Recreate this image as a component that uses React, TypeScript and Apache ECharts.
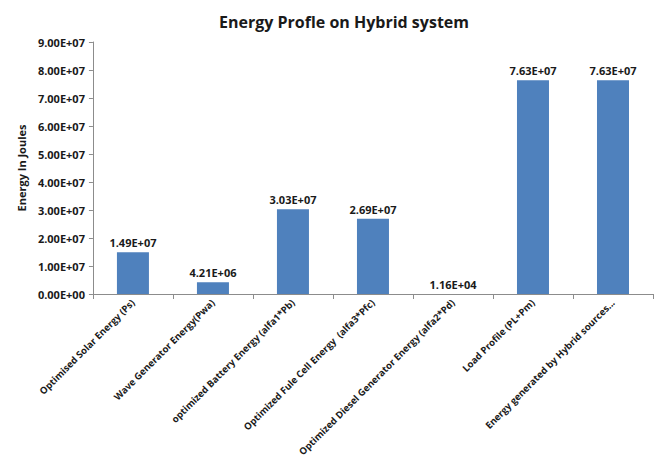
import React, { useEffect, useRef } from "react";
import * as echarts from "echarts";

const categories = [
  "Optimised Solar Energy (Ps)",
  "Wave Generator Energy(Pwa)",
  "optimized Battery Energy (alfa1*Pb)",
  "Optimized Fule Cell Energy  (alfa3*Pfc)",
  "Optimized Diesel Generator Energy (alfa2*Pd)",
  "Load Profile (PL+Pm)",
  "Energy generated by Hybrid sources...",
];

const energyJoules = [1.49e7, 4.21e6, 3.03e7, 2.69e7, 1.16e4, 7.63e7, 7.63e7];

const yTicks = { min: 0, max: 9e7, interval: 1e7 };

const FONT = "'Open Sans', 'Liberation Sans', sans-serif";

// Excel-style scientific notation: 1.49E+07
function sci(v: number): string {
  if (v === 0) return "0.00E+00";
  const [m, e] = v.toExponential(2).split("e");
  const exp = parseInt(e, 10);
  const sign = exp < 0 ? "-" : "+";
  return `${m}E${sign}${String(Math.abs(exp)).padStart(2, "0")}`;
}

export default function App() {
  const ref = useRef<HTMLDivElement>(null);

  useEffect(() => {
    if (!ref.current) return;
    const chart = echarts.init(ref.current, undefined, { renderer: "svg" });
    chart.setOption({
      animation: false,
      backgroundColor: "#ffffff",
      title: {
        text: "Energy Profle on Hybrid system",
        left: 206,
        top: 1,
        textStyle: { fontFamily: FONT, fontSize: 16, fontWeight: "bold", color: "#1a1a1a" },
      },
      grid: { left: 80, right: 5, top: 34, bottom: 183, containLabel: false },
      xAxis: {
        type: "category",
        data: categories,
        axisLine: { lineStyle: { color: "#8c8c8c" } },
        axisTick: { show: true, length: 5, lineStyle: { color: "#8c8c8c" } },
        axisLabel: {
          rotate: 45,
          interval: 0,
          margin: 7,
          fontFamily: FONT,
          fontSize: 9.5,
          fontWeight: "bold",
          color: "#1a1a1a",
        },
      },
      yAxis: {
        type: "value",
        min: yTicks.min,
        max: yTicks.max,
        interval: yTicks.interval,
        name: "Energy In Joules",
        nameLocation: "middle",
        nameGap: 64,
        nameRotate: 90,
        nameTextStyle: { fontFamily: FONT, fontSize: 11, fontWeight: "bold", color: "#1a1a1a" },
        axisLine: { show: true, lineStyle: { color: "#8c8c8c" } },
        axisTick: { show: true, length: 4, lineStyle: { color: "#8c8c8c" } },
        splitLine: { show: false },
        axisLabel: {
          formatter: (v: number) => sci(v),
          fontFamily: FONT,
          fontSize: 11,
          fontWeight: "bold",
          color: "#1a1a1a",
          margin: 8,
        },
      },
      series: [
        {
          type: "bar",
          data: energyJoules,
          barWidth: "40%",
          itemStyle: { color: "#4f81bd" },
          label: {
            show: true,
            position: "top",
            distance: 4,
            formatter: (p: any) => sci(p.value),
            fontFamily: FONT,
            fontSize: 11,
            fontWeight: "bold",
            color: "#1a1a1a",
          },
        },
      ],
    });
    return () => chart.dispose();
  }, []);

  return <div ref={ref} style={{ width: 650, height: 469 }} />;
}
